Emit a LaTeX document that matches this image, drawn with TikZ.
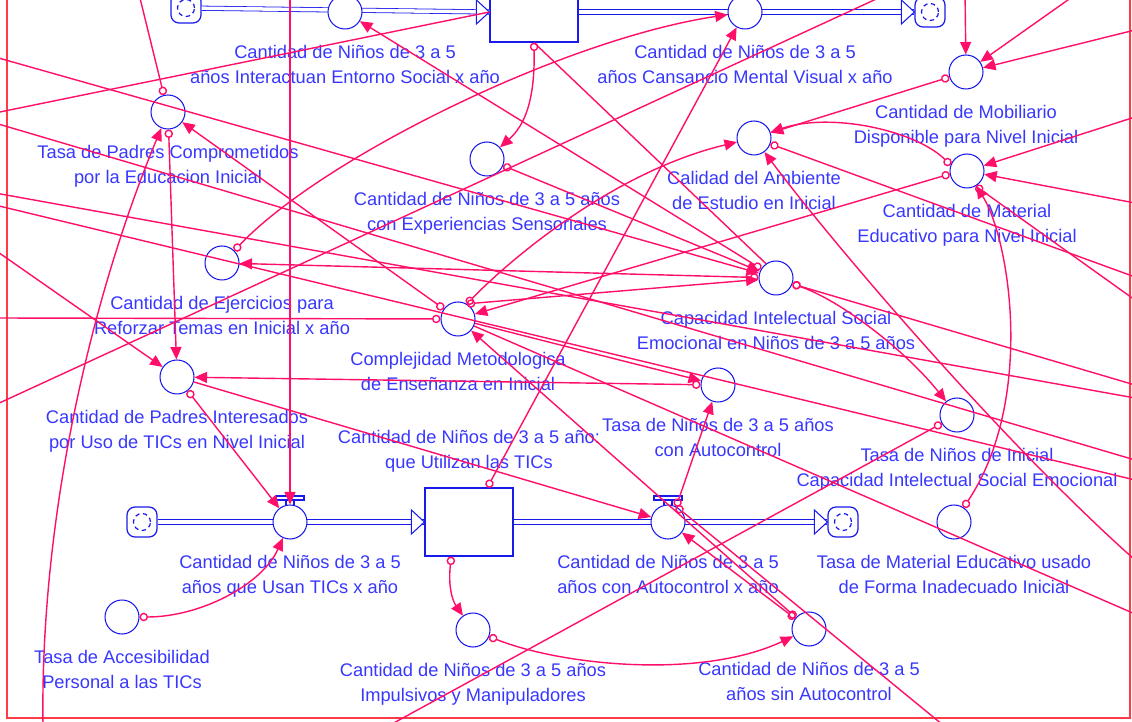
\documentclass[tikz,border=0pt]{standalone}
\usepackage{fontspec}
\newfontfamily\vensimfont{Liberation Sans}
\usetikzlibrary{arrows.meta,positioning}

\begin{document}
\begin{tikzpicture}[x = 0.02cm, y = -0.02cm,
		aux/.style = {circle, draw = vblue, line width = 0.6pt, minimum size = 0.68cm, inner sep = 0},
		valve/.style = {aux, fill = white},
		stockbox/.style = {rectangle, draw = vblue, line width = 0.7pt, fill = white, minimum width = 1.76cm, minimum height = 1.36cm, inner sep = 0},
		sink/.style = {rectangle, rounded corners = 0.16cm, draw = vblue, line width = 0.7pt, fill = white, minimum size = 0.6cm, inner sep = 0,
			path picture = {\draw[vblue, line width = 0.7pt, dash pattern = on 2.5pt off 2pt] (path picture bounding box.center) circle[radius = 0.17cm];}},
		lab/.style = {text = vtext, align = center, inner sep = 0, font = \vensimfont\fontsize{10.4}{14.2}\selectfont},
		pipe/.style = {draw = vblue, double = white, double distance = 0.07cm, line width = 0.45pt},
		link/.style = {vlink, line width = 0.8pt, {Circle[open, length = 1.7mm, width = 1.7mm]}-{Triangle[length = 2.5mm, width = 2.2mm]}},
		into/.style = {vlink, line width = 0.8pt, -{Triangle[length = 2.5mm, width = 2.2mm]}},
		from/.style = {vlink, line width = 0.8pt, {Circle[open, length = 1.7mm, width = 1.7mm]}-},
		wire/.style = {vlink, line width = 0.8pt},
		flowhead/.pic = {\draw[vblue, line width = 0.6pt, fill = white] (-13, -12) -- (0, 0) -- (-13, 12) -- cycle;},
		gate/.pic = {\draw[vblue, line width = 0.6pt, fill = white] (-14, -26) rectangle (14, -22);
			\draw[vblue, line width = 0.6pt] (-4, -22) -- (-4, -16) (4, -22) -- (4, -16);}
	]

	\definecolor{vblue}{RGB}{25,25,235}
	\definecolor{vtext}{RGB}{55,55,255}
	\definecolor{vlink}{RGB}{255,15,105}
	\definecolor{vframe}{RGB}{255,60,70}

	\useasboundingbox (0, 0) rectangle (1132, 722);
	\clip (0, 0) rectangle (1132, 722);

	% Frame of the view
	\draw[vframe, line width = 0.8pt] (7, -5) -- (7, 718) -- (1130, 718) -- (1130, -5);

	% Ends of links that leave the view
	\coordinate (topA) at (138, -10);
	\coordinate (topB) at (290, -10);
	\coordinate (topC) at (965, -10);
	\coordinate (topD) at (1082, -10);
	\coordinate (topE) at (885, -5);
	\coordinate (lftA) at (-5, 57);
	\coordinate (lftB) at (-5, 113);
	\coordinate (lftC) at (-5, 123);
	\coordinate (lftD) at (-5, 193);
	\coordinate (lftE) at (-5, 205);
	\coordinate (lftF) at (-5, 250);
	\coordinate (lftG) at (-5, 318);
	\coordinate (lftH) at (-5, 405);
	\coordinate (rgtA) at (1135, 30);
	\coordinate (rgtB) at (1135, 117);
	\coordinate (rgtC) at (1135, 203);
	\coordinate (rgtD) at (1135, 277);
	\coordinate (rgtE) at (1135, 300);
	\coordinate (rgtF) at (1135, 385);
	\coordinate (rgtG) at (1135, 398);
	\coordinate (rgtK) at (1135, 460);
	\coordinate (rgtH) at (1135, 480);
	\coordinate (rgtI) at (1135, 560);
	\coordinate (rgtJ) at (1135, 614);
	\coordinate (botA) at (43, 725);
	\coordinate (botB) at (390, 725);
	\coordinate (botC) at (943, 725);

	% Upper flow chain, cut at the top
	\node[sink] (cloudA) at (186, 8) {};
	\node[stockbox, minimum height = 1.2cm] (stockA) at (534, 12) {};
	\node[sink] (cloudB) at (930, 12) {};
	\draw[pipe] (cloudA) -- (stockA.west);
	\draw[pipe] (stockA.east) -- (cloudB);
	\pic at (stockA.west) {flowhead};
	\pic at (cloudB.west) {flowhead};
	\node[valve] (valveInter) at (345, 12) {};
	\node[valve] (valveCans) at (745, 12) {};
	\node[lab, below = 0.3cm of valveInter] (valveInterL) {Cantidad de Niños de 3 a 5\\años Interactuan Entorno Social x año};
	\node[lab, below = 0.3cm of valveCans] (valveCansL) {Cantidad de Niños de 3 a 5\\años Cansancio Mental Visual x año};

	% Lower flow chain
	\node[sink] (cloudC) at (142, 522) {};
	\node[stockbox] (stockB) at (469, 522) {};
	\node[sink] (cloudD) at (843, 522) {};
	\draw[pipe] (cloudC) -- (stockB.west);
	\draw[pipe] (stockB.east) -- (cloudD);
	\pic at (stockB.west) {flowhead};
	\pic at (cloudD.west) {flowhead};
	\node[valve] (valveUsan) at (290, 522) {};
	\node[valve] (valveAuto) at (668, 522) {};
	\pic at (valveUsan) {gate};
	\pic at (valveAuto) {gate};
	\node[lab, above = 0.3cm of stockB] (stockBL) {Cantidad de Niños de 3 a 5 año:\\que Utilizan las TICs};
	\node[lab, below = 0.3cm of valveUsan] (valveUsanL) {Cantidad de Niños de 3 a 5\\años que Usan TICs x año};
	\node[lab, below = 0.3cm of valveAuto] (valveAutoL) {Cantidad de Niños de 3 a 5\\años con Autocontrol x año};

	% Auxiliary variables
	\node[aux] (padrescomp) at (168, 112) {};
	\node[aux] (mobil) at (966, 72) {};
	\node[aux] (calidad) at (754, 138) {};
	\node[aux] (material) at (967, 171) {};
	\node[aux] (experiencias) at (487, 159) {};
	\node[aux] (ejercicios) at (222, 263) {};
	\node[aux] (capacidad) at (776, 278) {};
	\node[aux] (complejidad) at (458, 319) {};
	\node[aux] (padresint) at (177, 377) {};
	\node[aux] (tasaauto) at (718, 385) {};
	\node[aux] (tasainicial) at (957, 415) {};
	\node[aux] (tasamaterial) at (954, 522) {};
	\node[aux] (accesib) at (122, 617) {};
	\node[aux] (impulsivos) at (473, 630) {};
	\node[aux] (sinauto) at (809, 629) {};

	\node[lab, below = 0.3cm of padrescomp] (padrescompL) {Tasa de Padres Comprometidos\\por la Educacion Inicial};
	\node[lab, below = 0.3cm of mobil] (mobilL) {Cantidad de Mobiliario\\Disponible para Nivel Inicial};
	\node[lab, below = 0.3cm of calidad] (calidadL) {Calidad del Ambiente\\de Estudio en Inicial};
	\node[lab, below = 0.3cm of material] (materialL) {Cantidad de Material\\Educativo para Nivel Inicial};
	\node[lab, below = 0.3cm of experiencias] (experienciasL) {Cantidad de Niños de 3 a 5 años\\con Experiencias Sensoriales};
	\node[lab, below = 0.3cm of ejercicios] (ejerciciosL) {Cantidad de Ejercicios para\\Reforzar Temas en Inicial x año};
	\node[lab, below = 0.3cm of capacidad] (capacidadL) {Capacidad Intelectual Social\\Emocional en Niños de 3 a 5 años};
	\node[lab, below = 0.3cm of complejidad] (complejidadL) {Complejidad Metodologica\\de Enseñanza en Inicial};
	\node[lab, below = 0.3cm of padresint] (padresintL) {Cantidad de Padres Interesados\\por Uso de TICs en Nivel Inicial};
	\node[lab, below = 0.3cm of tasaauto] (tasaautoL) {Tasa de Niños de 3 a 5 años\\con Autocontrol};
	\node[lab, below = 0.3cm of tasainicial] (tasainicialL) {Tasa de Niños de Inicial\\Capacidad Intelectual Social Emocional};
	\node[lab, below = 0.3cm of tasamaterial] (tasamaterialL) {Tasa de Material Educativo usado\\de Forma Inadecuado Inicial};
	\node[lab, below = 0.3cm of accesib] (accesibL) {Tasa de Accesibilidad\\Personal a las TICs};
	\node[lab, below = 0.3cm of impulsivos] (impulsivosL) {Cantidad de Niños de 3 a 5 años\\Impulsivos y Manipuladores};
	\node[lab, below = 0.3cm of sinauto] (sinautoL) {Cantidad de Niños de 3 a 5\\años sin Autocontrol};

	% Links on the left side
	\draw[into] (topB) -- (valveUsan);
	\draw[link] (accesib) .. controls (200, 617) and (262, 585) .. (valveUsan);
	\draw[link] (padresint) -- (valveUsan);
	\draw[link] (padrescomp) -- (padresint);
	\draw[from] (padrescomp) -- (topA);
	\draw[into] (botA) .. controls (40, 520) and (90, 300) .. (padrescomp);
	\draw[into] (lftF) -- (padresint);
	\draw[into] (padresint) -- (valveAuto);
	\draw[link] (tasaauto) -- (padresint);
	\draw[link] (complejidad) -- (padrescomp);

	% Links of the upper part
	\draw[into] (lftA) -- (capacidad);
	\draw[wire] (lftB) -- (stockA.west);
	\draw[link] (stockA.south) .. controls (535, 100) and (525, 125) .. (experiencias);
	\draw[wire] (stockA.south) -- (capacidad.125);
	\draw[link] (experiencias) -- (capacidad);
	\draw[link] (capacidad) -- (valveInter);
	\draw[link] (ejercicios.45) .. controls (320, 160) and (560, 40) .. (valveCans);
	\draw[link] (capacidad) -- (ejercicios);
	\draw[link] (stockB.62) -- (valveCans);
	\draw[wire] (lftH) -- (topE);

	% Links on the right side
	\draw[into] (topC) -- (mobil);
	\draw[into] (topD) -- (mobil);
	\draw[into] (rgtA) -- (mobil);
	\draw[link] (mobil) -- (calidad);
	\draw[link] (material.160) .. controls (915, 130) and (830, 112) .. (calidad);
	\draw[link] (material.190) -- (complejidad);
	\draw[into] (rgtB) -- (material);
	\draw[into] (rgtC) -- (material);
	\draw[from] (material.-60) -- (rgtE);
	\draw[link] (tasamaterial) .. controls (1035, 400) and (1010, 240) .. (material);
	\draw[from] (calidad) -- (rgtD);
	\draw[into] (rgtI) .. controls (1000, 440) and (830, 240) .. (calidad);

	% Links through the middle
	\draw[link] (complejidad.60) -- (capacidad);
	\draw[link] (complejidad.60) .. controls (520, 250) and (620, 170) .. (calidad);
	\draw[from] (complejidad) -- (lftG);
	\draw[into] (complejidad) -- (tasaauto);
	\draw[wire] (complejidad) -- (rgtJ);
	\draw[link] (capacidad.-20) .. controls (840, 300) and (905, 350) .. (tasainicial);
	\draw[from] (capacidad.-20) -- (rgtF);
	\draw[wire] (lftC) -- (rgtK);
	\draw[wire] (lftD) -- (rgtG);
	\draw[wire] (lftE) -- (rgtH);
	\draw[from] (tasainicial) -- (botB);

	% Links of the lower part
	\draw[link] (stockB.243) .. controls (448, 585) and (452, 600) .. (impulsivos);
	\draw[link] (impulsivos) .. controls (560, 665) and (700, 680) .. (sinauto);
	\draw[link] (valveAuto.62) -- (tasaauto);
	\draw[from] (valveAuto.62) -- (botC);
	\draw[link] (sinauto) -- (complejidad);
	\draw[link] (sinauto) -- (valveAuto);

\end{tikzpicture}
\end{document}
